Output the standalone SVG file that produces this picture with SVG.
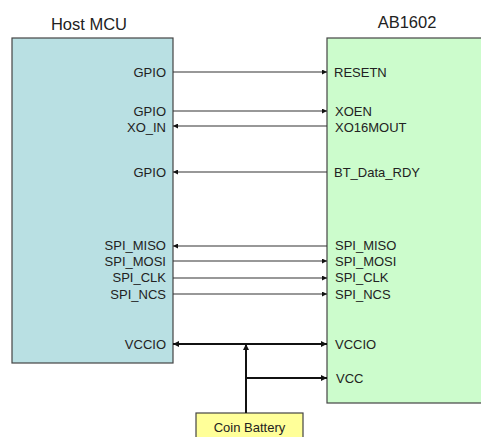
<svg xmlns="http://www.w3.org/2000/svg" width="481" height="437" viewBox="0 0 481 437">
<style>
text{font-family:"Liberation Sans",Arial,sans-serif;fill:#222;}
.lbl{font-size:13px;}
.l{text-anchor:end;}
.title{font-size:16.5px;text-anchor:middle;}
.sig{stroke:#333;stroke-width:1.2;fill:none;}
.pwr{stroke:#111;stroke-width:2;fill:none;}
</style>
<defs>
<marker id="ah" viewBox="0 0 10 10" refX="10" refY="5" markerWidth="6" markerHeight="5" markerUnits="userSpaceOnUse" orient="auto">
<path d="M0,0 L10,5 L0,10 z" fill="#111"/>
</marker>
<marker id="ahp" viewBox="0 0 10 10" refX="10" refY="5" markerWidth="8" markerHeight="6" markerUnits="userSpaceOnUse" orient="auto-start-reverse">
<path d="M0,0 L10,5 L0,10 z" fill="#111"/>
</marker>
</defs>
<g id="host-mcu">
<text class="title" x="89" y="30">Host MCU</text>
<rect x="12" y="38" width="161" height="325" fill="#b9e0e3" stroke="#444" stroke-width="1.2"/>
<text class="lbl l" x="166" y="77">GPIO</text>
<text class="lbl l" x="166" y="116">GPIO</text>
<text class="lbl l" x="166" y="132">XO_IN</text>
<text class="lbl l" x="166" y="177">GPIO</text>
<text class="lbl l" x="166" y="250">SPI_MISO</text>
<text class="lbl l" x="166" y="266">SPI_MOSI</text>
<text class="lbl l" x="166" y="282">SPI_CLK</text>
<text class="lbl l" x="166" y="299">SPI_NCS</text>
<text class="lbl l" x="166" y="349">VCCIO</text>
</g>
<g id="ab1602">
<text class="title" x="407" y="28">AB1602</text>
<rect x="327" y="38" width="160" height="365" fill="#ccfccc" stroke="#444" stroke-width="1.2"/>
<text class="lbl" x="334" y="77">RESETN</text>
<text class="lbl" x="335" y="116">XOEN</text>
<text class="lbl" x="335" y="132">XO16MOUT</text>
<text class="lbl" x="334" y="177">BT_Data_RDY</text>
<text class="lbl" x="335" y="250">SPI_MISO</text>
<text class="lbl" x="335" y="266">SPI_MOSI</text>
<text class="lbl" x="335" y="282">SPI_CLK</text>
<text class="lbl" x="335" y="299">SPI_NCS</text>
<text class="lbl" x="335" y="349">VCCIO</text>
<text class="lbl" x="336" y="383">VCC</text>
</g>
<g id="coin-battery">
<rect x="196" y="413" width="107" height="30" fill="#ffff99" stroke="#444" stroke-width="1.2"/>
<text class="lbl" x="249.5" y="432" text-anchor="middle">Coin Battery</text>
</g>
<g id="connectors">
<line class="sig" x1="173" y1="72" x2="327" y2="72" marker-end="url(#ah)"/>
<line class="sig" x1="173" y1="111" x2="327" y2="111" marker-end="url(#ah)"/>
<line class="sig" x1="327" y1="126" x2="173" y2="126" marker-end="url(#ah)"/>
<line class="sig" x1="327" y1="172" x2="173" y2="172" marker-end="url(#ah)"/>
<line class="sig" x1="327" y1="246" x2="173" y2="246" marker-end="url(#ah)"/>
<line class="sig" x1="173" y1="261" x2="327" y2="261" marker-end="url(#ah)"/>
<line class="sig" x1="173" y1="278" x2="327" y2="278" marker-end="url(#ah)"/>
<line class="sig" x1="173" y1="294" x2="327" y2="294" marker-end="url(#ah)"/>
<line class="pwr" x1="173" y1="344" x2="327" y2="344" marker-start="url(#ahp)" marker-end="url(#ahp)"/>
<line class="pwr" x1="246" y1="413" x2="246" y2="344" marker-end="url(#ahp)"/>
<line class="pwr" x1="246" y1="378" x2="327" y2="378" marker-end="url(#ahp)"/>
</g>
</svg>
